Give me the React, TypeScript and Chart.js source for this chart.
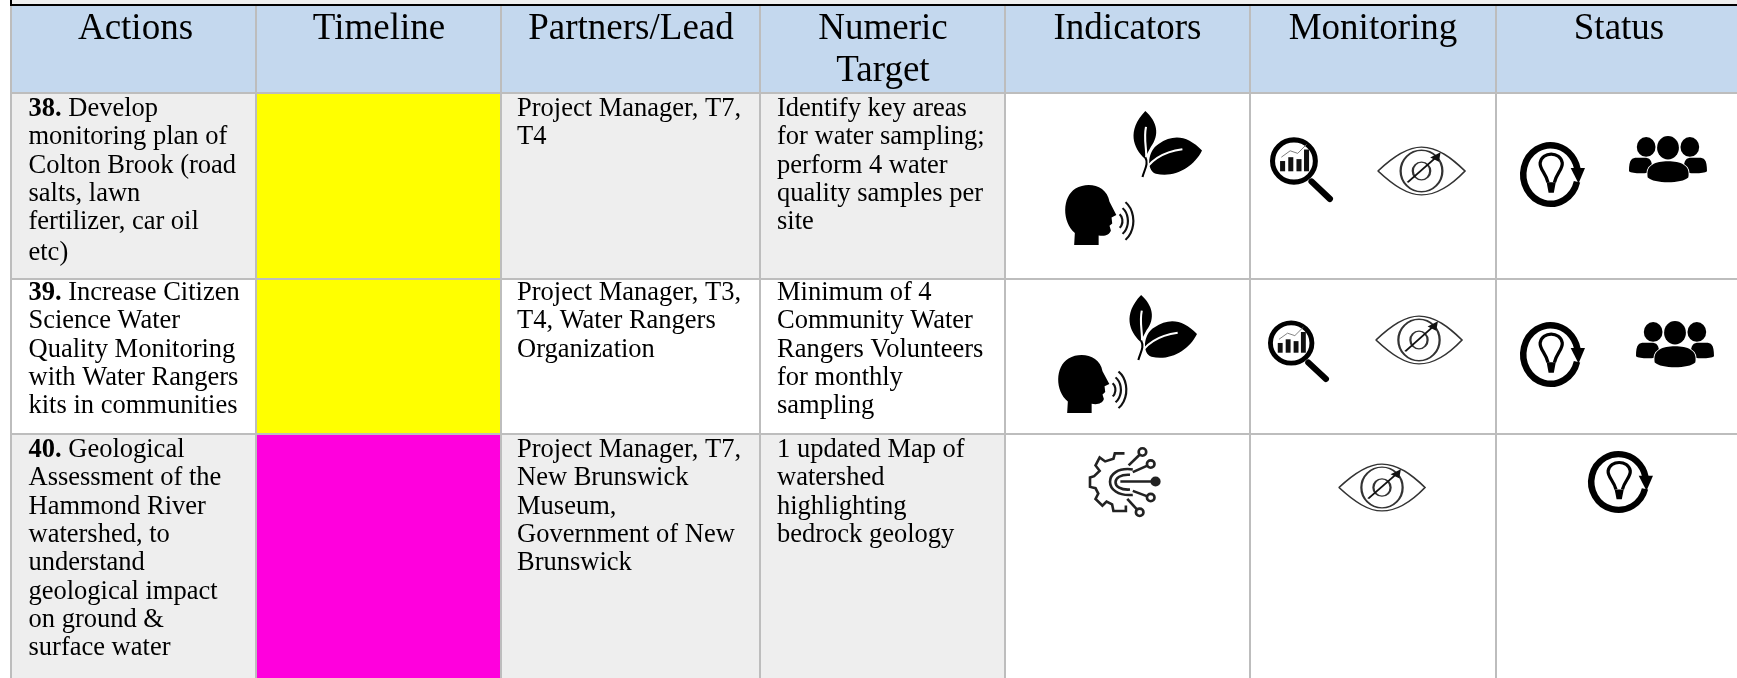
import React, { useEffect, useRef } from "react";
import { Chart, registerables } from "chart.js";

Chart.register(...registerables);

const headers = [["Actions"], ["Timeline"], ["Partners/Lead"], ["Numeric", "Target"], ["Indicators"], ["Monitoring"], ["Status"]];
const actionNumbers = ["38.", "39.", "40."];
const actions = [
  [" Develop", "monitoring plan of", "Colton Brook (road", "salts, lawn", "fertilizer, car oil", "etc)"],
  [" Increase Citizen", "Science Water", "Quality Monitoring", "with Water Rangers", "kits in communities"],
  [" Geological", "Assessment of the", "Hammond River", "watershed, to", "understand", "geological impact", "on ground &", "surface water"],
];
const partners = [
  ["Project Manager, T7,", "T4"],
  ["Project Manager, T3,", "T4, Water Rangers", "Organization"],
  ["Project Manager, T7,", "New Brunswick", "Museum,", "Government of New", "Brunswick"],
];
const targets = [
  ["Identify key areas", "for water sampling;", "perform 4 water", "quality samples per", "site"],
  ["Minimum of 4", "Community Water", "Rangers Volunteers", "for monthly", "sampling"],
  ["1 updated Map of", "watershed", "highlighting", "bedrock geology"],
];
const timelineStatus = ["yellow", "yellow", "magenta"];
const rowShade = ["grey", "white", "grey"];

// Layout
const COL_EDGES = [11, 256, 501, 760, 1005, 1250, 1496, 1739];
const HEADER_CX = [135.5, 379, 631, 883, 1127.5, 1373, 1619];
const ROW_EDGES = [6, 93, 279, 434, 680];
const FIRST_BASELINE = [116, 300, 457];
const LINE_H = 28.3;
const LAST_LINE_NUDGE = 2.5; // the short last line of action 38 sits a little lower
const TEXT_X = [28.5, 517, 777];
const BODY = '26.5px "Liberation Serif"';
const BODY_B = 'bold 26.5px "Liberation Serif"';
const HEAD = '37px "Liberation Serif"';
const COLORS: any = { grey: "#eeeeee", white: "#ffffff", yellow: "#ffff00", magenta: "#ff00dd", head: "#c4d8ee" };
const GRID = "#bdbdbd";

type Box = [number, number, number, number];
const ICONS: [string, Box][] = [
  ["leaf", [1132, 111, 1202, 177]],
  ["head", [1066, 185, 1134, 245]],
  ["mag", [1270, 138, 1333, 202]],
  ["eye", [1378, 145, 1465, 197]],
  ["bulb", [1520, 142, 1585, 207]],
  ["people", [1629, 137, 1707, 182]],
  ["leaf", [1128, 295, 1197, 360]],
  ["head", [1059, 355, 1127, 413]],
  ["mag", [1268, 321, 1329, 382]],
  ["eye", [1376, 314, 1462, 366]],
  ["bulb", [1520, 322, 1585, 387]],
  ["people", [1636, 322, 1714, 367]],
  ["gear", [1090, 448, 1159, 515]],
  ["eye", [1339, 462, 1425, 513]],
  ["bulb", [1588, 451, 1653, 513]],
];

function leaf(c: CanvasRenderingContext2D) {
  c.fillStyle = "#000";
  c.beginPath();
  c.moveTo(19, 0);
  c.bezierCurveTo(36, 16, 40, 36, 27, 54);
  c.lineTo(18, 72);
  c.bezierCurveTo(2, 56, -8, 30, 19, 0);
  c.fill();
  c.beginPath();
  c.moveTo(100, 60);
  c.bezierCurveTo(88, 86, 60, 102, 34, 95);
  c.bezierCurveTo(20, 90, 22, 60, 38, 50);
  c.bezierCurveTo(60, 34, 80, 38, 100, 60);
  c.fill();
  c.strokeStyle = "#fff";
  c.lineWidth = 3;
  c.beginPath();
  c.moveTo(14, 98);
  c.bezierCurveTo(24, 76, 44, 62, 72, 58);
  c.stroke();
  c.beginPath();
  c.moveTo(20, 24);
  c.bezierCurveTo(16, 44, 22, 58, 20, 76);
  c.stroke();
  c.strokeStyle = "#000";
  c.lineWidth = 3;
  c.beginPath();
  c.moveTo(15, 100);
  c.bezierCurveTo(18, 88, 24, 80, 19, 70);
  c.stroke();
}

function head(c: CanvasRenderingContext2D) {
  c.fillStyle = "#000";
  c.beginPath();
  c.moveTo(12, 100);
  c.lineTo(13, 80);
  c.bezierCurveTo(-6, 62, -6, 20, 14, 6);
  c.bezierCurveTo(32, -6, 60, 0, 64, 28);
  c.lineTo(74, 50);
  c.lineTo(67, 54);
  c.lineTo(68, 64);
  c.lineTo(64, 68);
  c.lineTo(66, 76);
  c.bezierCurveTo(64, 84, 56, 86, 48, 84);
  c.lineTo(48, 100);
  c.closePath();
  c.fill();
  c.strokeStyle = "#111";
  c.lineWidth = 3.2;
  for (const r of [9, 17, 25]) {
    c.beginPath();
    c.ellipse(74, 60, r, r * 1.5, 0, -1, 1);
    c.stroke();
  }
}

function mag(c: CanvasRenderingContext2D) {
  c.strokeStyle = "#000";
  c.lineWidth = 8;
  c.beginPath();
  c.ellipse(38, 36, 34, 33, 0, 0, Math.PI * 2);
  c.stroke();
  c.lineWidth = 10;
  c.lineCap = "round";
  c.beginPath();
  c.moveTo(66, 68);
  c.lineTo(95, 95);
  c.stroke();
  c.lineCap = "butt";
  c.fillStyle = "#111";
  [[20, 16], [33, 22], [46, 19], [58, 34]].forEach(([x, h]) => c.fillRect(x - 4, 52 - h, 8, h));
  c.strokeStyle = "#777";
  c.lineWidth = 1.5;
  c.beginPath();
  c.moveTo(18, 30);
  c.lineTo(32, 20);
  c.lineTo(44, 24);
  c.lineTo(58, 10);
  c.stroke();
}

function eye(c: CanvasRenderingContext2D) {
  c.strokeStyle = "#333";
  c.lineWidth = 2.4;
  c.beginPath();
  c.moveTo(0, 50);
  c.bezierCurveTo(20, 18, 36, 4, 50, 4);
  c.bezierCurveTo(68, 4, 84, 24, 100, 50);
  c.bezierCurveTo(84, 78, 68, 96, 50, 96);
  c.bezierCurveTo(34, 96, 18, 78, 0, 50);
  c.stroke();
  c.lineWidth = 2.6;
  c.beginPath();
  c.ellipse(50, 50, 24, 40, 0, 0, Math.PI * 2);
  c.stroke();
  c.beginPath();
  c.ellipse(50, 50, 10, 17, 0, 0, Math.PI * 2);
  c.stroke();
  c.strokeStyle = "#111";
  c.beginPath();
  c.moveTo(34, 72);
  c.lineTo(68, 22);
  c.stroke();
  c.fillStyle = "#111";
  c.beginPath();
  c.moveTo(72, 14);
  c.lineTo(60, 24);
  c.lineTo(70, 32);
  c.closePath();
  c.fill();
}

function bulb(c: CanvasRenderingContext2D) {
  c.strokeStyle = "#000";
  c.lineWidth = 10;
  c.beginPath();
  c.ellipse(47, 50, 42, 45, 0, 0.25, 2 * Math.PI - 0.05);
  c.stroke();
  c.fillStyle = "#000";
  c.beginPath();
  c.moveTo(78, 40);
  c.lineTo(100, 40);
  c.lineTo(90, 64);
  c.closePath();
  c.fill();
  c.lineWidth = 5;
  c.beginPath();
  c.moveTo(43, 62);
  c.bezierCurveTo(40, 48, 30, 42, 31, 32);
  c.bezierCurveTo(34, 14, 62, 14, 65, 32);
  c.bezierCurveTo(66, 42, 56, 48, 53, 62);
  c.stroke();
  c.beginPath();
  c.moveTo(41, 62);
  c.lineTo(55, 62);
  c.lineTo(52, 78);
  c.lineTo(44, 78);
  c.closePath();
  c.fill();
}

function people(c: CanvasRenderingContext2D) {
  c.fillStyle = "#000";
  const h = (x: number, y: number, rx: number, ry: number) => {
    c.beginPath();
    c.ellipse(x, y, rx, ry, 0, 0, Math.PI * 2);
    c.fill();
  };
  h(22, 22, 12, 22);
  h(50, 24, 14, 26);
  h(78, 22, 12, 22);
  const b = (x0: number, x1: number, top: number, bot: number) => {
    c.beginPath();
    c.moveTo(x0, bot);
    c.bezierCurveTo(x0, top - 4, x0 + 6, top, (x0 + x1) / 2, top);
    c.bezierCurveTo(x1 - 6, top, x1, top - 4, x1, bot);
    c.bezierCurveTo(x1 - 4, bot + 6, x0 + 4, bot + 6, x0, bot);
    c.fill();
  };
  b(0, 30, 46, 76);
  b(70, 100, 46, 76);
  c.strokeStyle = "#fff";
  c.lineWidth = 2.5;
  c.fillStyle = "#000";
  c.beginPath();
  c.moveTo(24, 90);
  c.bezierCurveTo(21, 62, 34, 54, 50, 54);
  c.bezierCurveTo(66, 54, 79, 62, 76, 90);
  c.bezierCurveTo(68, 104, 32, 104, 24, 90);
  c.closePath();
  c.stroke();
  c.fill();
}

function gear(c: CanvasRenderingContext2D) {
  c.strokeStyle = "#222";
  c.fillStyle = "#222";
  c.lineWidth = 3.8;
  c.beginPath();
  const pts = [[50, 8], [36, 8], [34, 16], [22, 20], [14, 14], [8, 26], [14, 34], [6, 42], [0, 44], [0, 58], [8, 60], [12, 68], [8, 76], [18, 86], [24, 80], [32, 84], [34, 94], [52, 94], [52, 86]];
  pts.forEach(([x, y], i) => (i ? c.lineTo(x, y) : c.moveTo(x, y)));
  c.stroke();
  c.beginPath();
  c.moveTo(62, 32);
  c.bezierCurveTo(18, 26, 18, 74, 62, 70);
  c.moveTo(58, 40);
  c.bezierCurveTo(30, 38, 30, 64, 58, 62);
  c.stroke();
  const nodes = [[76, 6], [88, 24], [95, 50], [88, 74], [72, 96]];
  const starts = [[56, 26], [62, 36], [44, 50], [62, 64], [54, 76]];
  nodes.forEach(([x, y], i) => {
    c.beginPath();
    c.moveTo(starts[i][0], starts[i][1]);
    c.lineTo(x, y);
    c.stroke();
    c.beginPath();
    c.ellipse(x, y, 5.5, 5.5, 0, 0, Math.PI * 2);
    c.fillStyle = i === 2 ? "#222" : "#fff";
    c.fill();
    c.stroke();
  });
}

const ICON_FN: any = { leaf, head, mag, eye, bulb, people, gear };

const tablePlugin = {
  id: "tableText",
  afterDraw(chart: any) {
    const c: CanvasRenderingContext2D = chart.ctx;
    const X = (v: number) => chart.scales.x.getPixelForValue(v);
    const Y = (v: number) => chart.scales.y.getPixelForValue(v);
    c.save();
    // frame above the table
    c.fillStyle = "#efefef";
    c.fillRect(X(11), Y(0), 1737, 4);
    c.fillStyle = "#000";
    c.fillRect(X(10), Y(4), 1737, 2);
    c.fillRect(X(10), Y(0), 2, 6);
    c.textBaseline = "alphabetic";
    c.fillStyle = "#000";
    // header
    c.font = HEAD;
    c.textAlign = "center";
    headers.forEach((lines, i) => {
      lines.forEach((t, j) => c.fillText(t, X(HEADER_CX[i]), Y(39 + j * 42)));
    });
    // body
    c.textAlign = "left";
    actions.forEach((lines, r) => {
      lines.forEach((t, j) => {
        const nudge = r === 0 && j === lines.length - 1 ? LAST_LINE_NUDGE : 0;
        const y = Y(FIRST_BASELINE[r] + j * LINE_H + nudge);
        let x = X(TEXT_X[0]);
        if (j === 0) {
          c.font = BODY_B;
          c.fillText(actionNumbers[r], x, y);
          x += c.measureText(actionNumbers[r]).width;
        }
        c.font = BODY;
        c.fillText(t, x, y);
      });
    });
    c.font = BODY;
    [partners, targets].forEach((col, k) => {
      col.forEach((lines, r) => {
        lines.forEach((t, j) => c.fillText(t, X(TEXT_X[k + 1]), Y(FIRST_BASELINE[r] + j * LINE_H)));
      });
    });
    // icons
    ICONS.forEach(([name, [x0, y0, x1, y1]]) => {
      c.save();
      c.filter = "blur(0.6px)";
      c.translate(X(x0), Y(y0));
      c.scale((x1 - x0) / 100, (y1 - y0) / 100);
      ICON_FN[name](c);
      c.restore();
    });
    c.restore();
  },
};

function cellDatasets() {
  const sets: any[] = [];
  const add = (col: number, row: number, color: string) => {
    const x0 = COL_EDGES[col];
    const x1 = COL_EDGES[col + 1];
    sets.push({
      data: [{ x: (x0 + x1) / 2, y: [ROW_EDGES[row], ROW_EDGES[row + 1]] }],
      barThickness: x1 - x0,
      backgroundColor: color,
      borderWidth: 0,
      grouped: false,
    });
  };
  headers.forEach((_, col) => add(col, 0, COLORS.head));
  rowShade.forEach((shade, r) => {
    headers.forEach((_, col) => {
      if (col === 1) add(col, r + 1, COLORS[timelineStatus[r]]);
      else if (col >= 4) add(col, r + 1, COLORS.white);
      else add(col, r + 1, COLORS[shade]);
    });
  });
  return sets;
}

export default function App() {
  const ref = useRef<HTMLCanvasElement>(null);
  useEffect(() => {
    const chart = new Chart(ref.current as HTMLCanvasElement, {
      type: "bar",
      data: { datasets: cellDatasets() },
      plugins: [tablePlugin],
      options: {
        responsive: false,
        animation: false,
        layout: { padding: { left: 10, right: 0, top: 0, bottom: 0 } },
        plugins: { legend: { display: false }, tooltip: { enabled: false }, title: { display: false } },
        scales: {
          x: {
            type: "linear",
            min: 10,
            max: 1737,
            offset: false,
            border: { display: false },
            grid: { color: GRID, lineWidth: 2, z: 1, offset: false, drawTicks: false, tickLength: 0 },
            ticks: { display: false },
            afterBuildTicks: (s: any) => {
              s.ticks = COL_EDGES.slice(0, 7).map((value) => ({ value }));
            },
          },
          y: {
            type: "linear",
            min: 0,
            max: 678,
            reverse: true,
            border: { display: false },
            grid: { color: GRID, lineWidth: 2, z: 1, offset: false, drawTicks: false, tickLength: 0 },
            ticks: { display: false },
            afterBuildTicks: (s: any) => {
              s.ticks = ROW_EDGES.slice(1, 4).map((value) => ({ value }));
            },
          },
        },
      } as any,
    });
    return () => chart.destroy();
  }, []);
  return (
    <div style={{ position: "fixed", left: 0, top: 0, width: 1737, height: 678, background: "#fff" }}>
      <canvas ref={ref} width={1737} height={678} style={{ display: "block" }} />
    </div>
  );
}
